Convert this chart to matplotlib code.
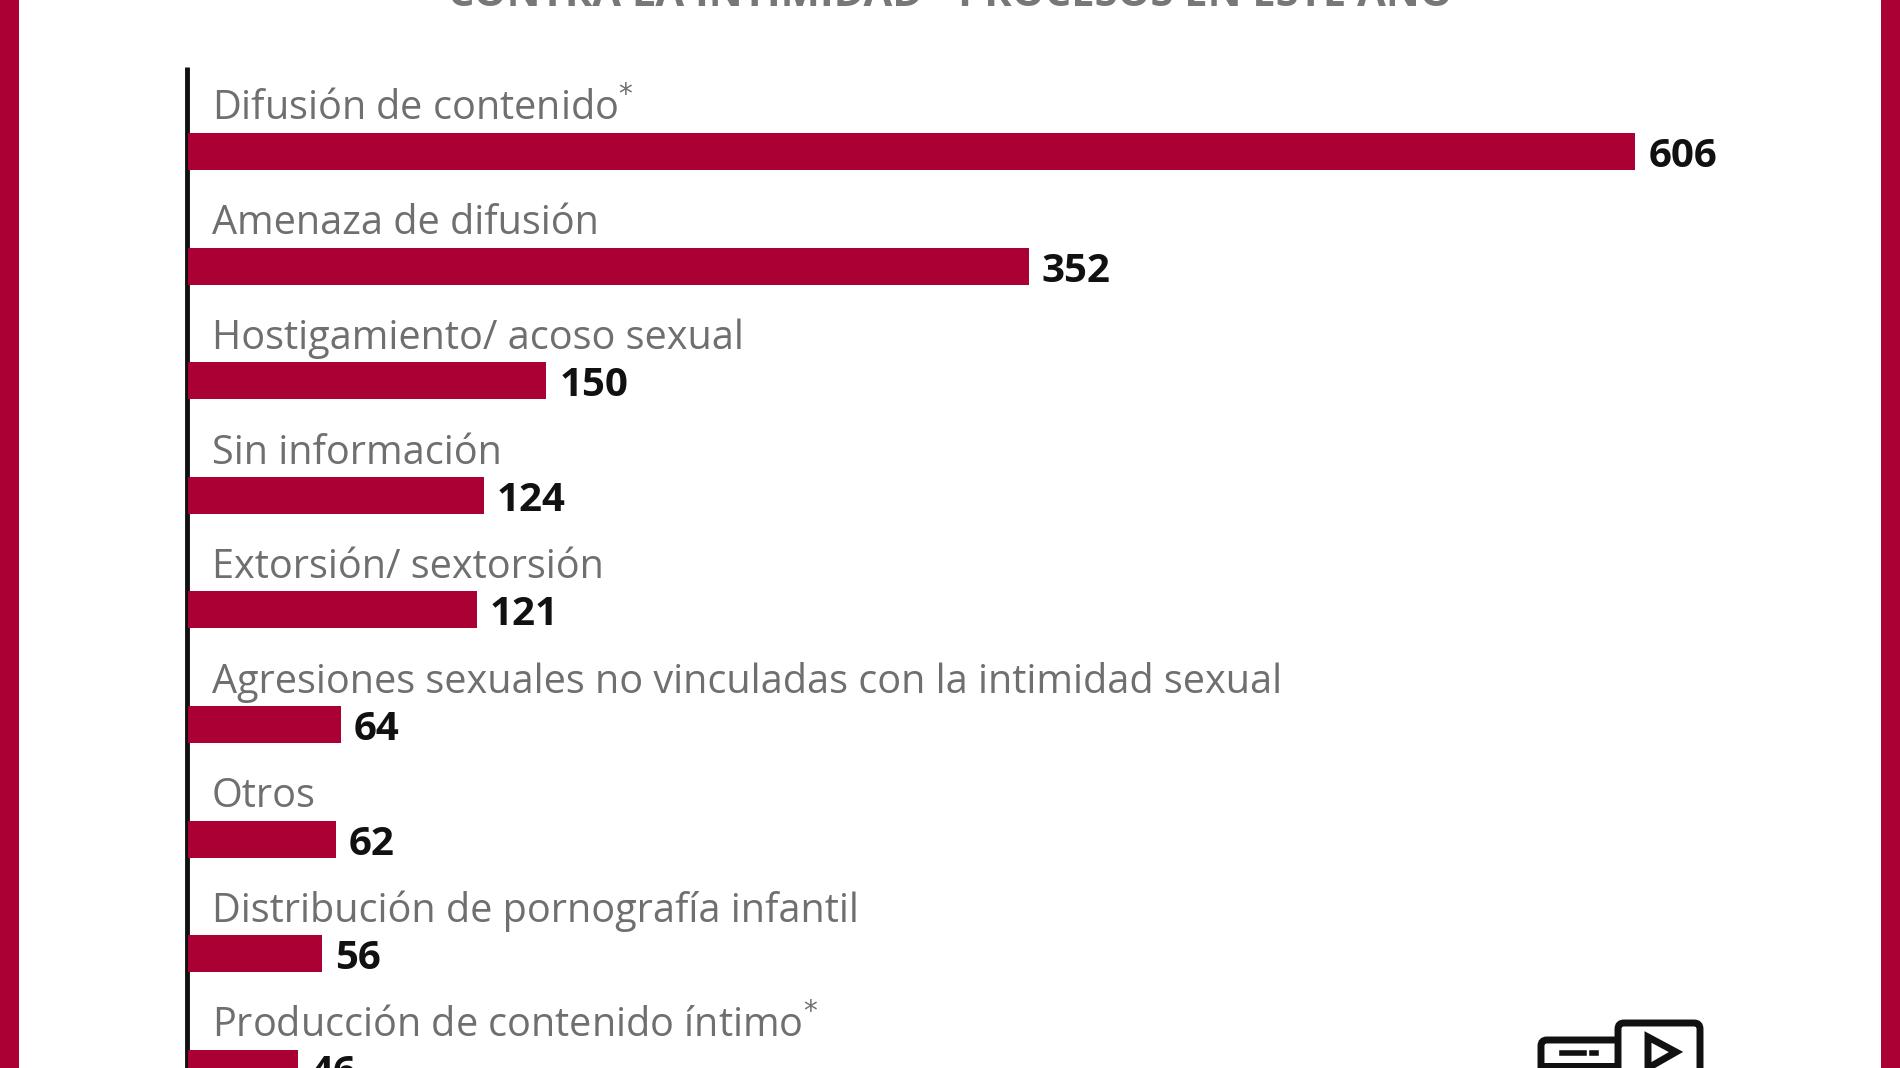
import matplotlib
matplotlib.use('Agg')
import matplotlib.pyplot as plt
from matplotlib.patches import Rectangle, FancyBboxPatch, Polygon

labels = ['Difusión de contenido$^{*}$', 'Amenaza de difusión', 'Hostigamiento/ acoso sexual',
          'Sin información', 'Extorsión/ sextorsión',
          'Agresiones sexuales no vinculadas con la intimidad sexual',
          'Otros', 'Distribución de pornografía infantil', 'Producción de contenido íntimo$^{*}$']
values = [606, 352, 150, 124, 121, 64, 62, 56, 46]
# only the bottom sliver of the title is visible, wording is a guess
title_text = 'CONTRA LA INTIMIDAD - PROCESOS EN ESTE AÑO'

RED = '#ab0033'
W, H = 1900, 1068

plt.rcParams['font.family'] = ['Open Sans', 'DejaVu Sans']
fig = plt.figure(figsize=(W / 100, H / 100), dpi=100)

# overlay in pixel coordinates for frame, title and icon
bg = fig.add_axes([0, 0, 1, 1])
bg.set_xlim(0, W)
bg.set_ylim(H, 0)
bg.axis('off')
bg.add_patch(Rectangle((0, 0), 19, H, color=RED, lw=0))
bg.add_patch(Rectangle((1881, 0), 19, H, color=RED, lw=0))
bg.text(950, -4, title_text, ha='center', va='center', fontsize=30, color='#777777', fontweight='bold')

# bars: 1 data unit = 2.388 px, one row = 114.6 px
left = 188
ax = fig.add_axes([left / W, 0, 1 - left / W, 1], zorder=2)
ax.patch.set_alpha(0)
ax.set_xlim(0, (W - left) / 2.388)
ax.set_ylim((H - 151.5) / 114.6, -151.5 / 114.6)
ax.axis('off')
ys = list(range(len(values)))
ax.barh(ys, values, height=37 / 114.6, color=RED)
for y, lab, v in zip(ys, labels, values):
    ax.annotate(lab, (0, y), xytext=(24, 42), textcoords='offset pixels', fontsize=28.5,
                color='#6f6f6f', ha='left', va='center', annotation_clip=False)
    ax.annotate(str(v), (v, y), xytext=(13, -5), textcoords='offset pixels', fontsize=29,
                fontweight='bold', color='#111111',
                va='center', ha='left', annotation_clip=False)

# vertical axis line
bg.plot([187, 187], [67, H], color='#111111', lw=3.5, solid_capstyle='butt')

# icon at the bottom right
bg.add_patch(FancyBboxPatch((1541, 1040), 80, 40, boxstyle='round,pad=0,rounding_size=6',
                            fc='white', ec='#111111', lw=5))
bg.plot([1562, 1584], [1053, 1053], color='#111111', lw=4)
bg.plot([1592, 1596], [1053, 1053], color='#111111', lw=4)
bg.add_patch(Rectangle((1541, 1063), 80, 10, fc='#111111', lw=0))
bg.add_patch(FancyBboxPatch((1618, 1023), 82, 70, boxstyle='round,pad=0,rounding_size=6',
                            fc='white', ec='#111111', lw=5))
bg.add_patch(Polygon([(1648, 1037), (1648, 1068), (1676, 1052)], closed=True, fc='white', ec='#111111', lw=5))

fig.savefig('out.png', dpi=100)
